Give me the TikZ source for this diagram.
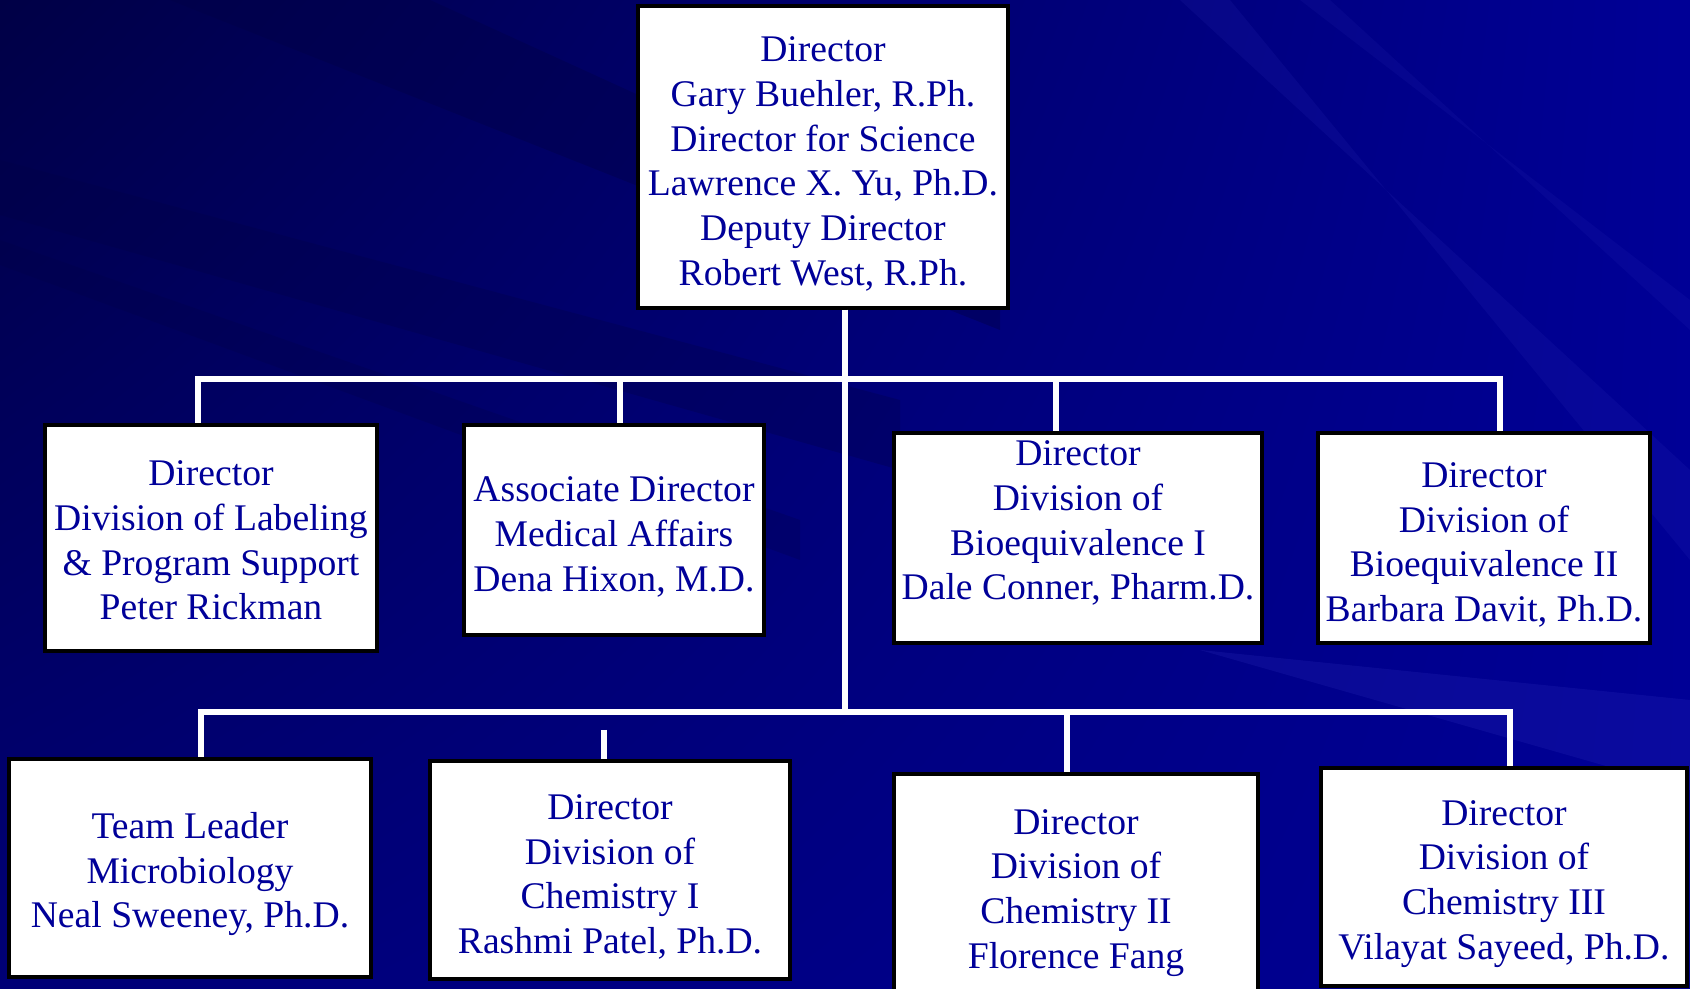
\documentclass[tikz,border=0pt]{standalone}
\usepackage{fontspec}
\setmainfont{Liberation Serif}
\usepackage{xcolor}
\usepackage{tikz}
\usetikzlibrary{calc,shadings}

\definecolor{txtblue}{RGB}{0,0,153}
\definecolor{bgdark}{RGB}{0,0,70}
\definecolor{bgmid}{RGB}{0,0,118}
\definecolor{bgright}{RGB}{0,0,150}
\definecolor{bglight}{RGB}{60,60,200}

% 首行的支撑, 把文字往下推
\newcommand{\padtop}[1][11pt]{\rule{0pt}{#1}}

\begin{document}
\begin{tikzpicture}[x=0.01cm, y=-0.01cm,
	orgbox/.style={draw=black, line width=0.04cm, fill=white, text=txtblue,
		align=center, inner sep=0pt, font=\fontsize{10.7}{12.7}\selectfont},
	link/.style={draw=white, line width=0.065cm}]
	
	% 1. 背景 (深蓝渐变 + 斜向条纹)
	\useasboundingbox (0,0) rectangle (1690,989);
	\shade[upper left=bgdark, upper right=bgright, lower left=bgmid, lower right=bgright]
		(0,0) rectangle (1690,989);
	\fill[bgdark, opacity=.40] (170,0) -- (430,0) -- (1000,260) -- (1000,330) -- cycle;
	\fill[bgdark, opacity=.30] (0,160) -- (0,215) -- (900,470) -- (900,400) -- cycle;
	\fill[bgdark, opacity=.25] (0,240) -- (0,265) -- (800,560) -- (800,520) -- cycle;
	\fill[bglight, opacity=.12] (1180,0) -- (1230,0) -- (1690,560) -- (1690,470) -- cycle;
	\fill[bglight, opacity=.10] (1300,0) -- (1330,0) -- (1690,330) -- (1690,300) -- cycle;
	\fill[bglight, opacity=.18] (1200,650) -- (1690,700) -- (1690,790) -- cycle;
	
	% 2. 顶层方框
	\node[orgbox, minimum width=3.7cm, minimum height=3.01cm] (top) at (823,157)
		{\padtop Director\\Gary Buehler, R.Ph.\\Director for Science\\Lawrence X. Yu, Ph.D.\\Deputy Director\\Robert West, R.Ph.};
	
	% 3. 第二层方框
	\node[orgbox, minimum width=3.32cm, minimum height=2.26cm] (labl) at (211,538)
		{\padtop[8.6pt]Director\\Division of Labeling\\\& Program Support\\Peter Rickman};
	\node[orgbox, minimum width=2.99cm, minimum height=2.10cm] (med) at (614,530)
		{\padtop Associate Director\\Medical Affairs\\Dena Hixon, M.D.};
	\node[orgbox, minimum width=3.67cm, minimum height=2.09cm] (bioA) at (1078,538)
		{Director\\Division of\\Bioequivalence I\\Dale Conner, Pharm.D.\rule[-10pt]{0pt}{0pt}};
	\node[orgbox, minimum width=3.32cm, minimum height=2.09cm] (bioB) at (1484,538)
		{\padtop Director\\Division of\\Bioequivalence II\\Barbara Davit, Ph.D.};
	
	% 4. 第三层方框
	\node[orgbox, minimum width=3.62cm, minimum height=2.18cm] (micro) at (190,868)
		{\padtop Team Leader\\Microbiology\\Neal Sweeney, Ph.D.};
	\node[orgbox, minimum width=3.60cm, minimum height=2.17cm] (chemA) at (610,870)
		{\padtop Director\\Division of\\Chemistry I\\Rashmi Patel, Ph.D.};
	\node[orgbox, minimum width=3.64cm, minimum height=2.23cm] (chemB) at (1076,886)
		{\padtop Director\\Division of\\Chemistry II\\Florence Fang};
	\node[orgbox, minimum width=3.65cm, minimum height=2.17cm] (chemC) at (1504,877)
		{\padtop Director\\Division of\\Chemistry III\\Vilayat Sayeed, Ph.D.};
	
	% 5. 连线的节点 (总线上的交点)
	\coordinate (j2) at (845,379);
	\coordinate (j3) at (845,712);
	\coordinate (dlabl) at (198,379);
	\coordinate (dmed)  at (620,379);
	\coordinate (dbioA) at (1056,379);
	\coordinate (dbioB) at (1500,379);
	\coordinate (dmicro) at (201,712);
	\coordinate (dchemA) at (604,712);
	\coordinate (dchemB) at (1067,712);
	\coordinate (dchemC) at (1510,712);
	
	% 6. 白色连线
	\draw[link] (j2 |- top.south) -- (j3);
	\draw[link] (dlabl |- labl.north) -- (dlabl) -- (dbioB) -- (dbioB |- bioB.north);
	\draw[link] (dmed) -- (dmed |- med.north);
	\draw[link] (dbioA) -- (dbioA |- bioA.north);
	\draw[link] (dmicro |- micro.north) -- (dmicro) -- (dchemC) -- (dchemC |- chemC.north);
	\draw[link] ($(dchemA)+(0,18)$) -- (dchemA |- chemA.north);
	\draw[link] (dchemB) -- (dchemB |- chemB.north);
	
\end{tikzpicture}
\end{document}
